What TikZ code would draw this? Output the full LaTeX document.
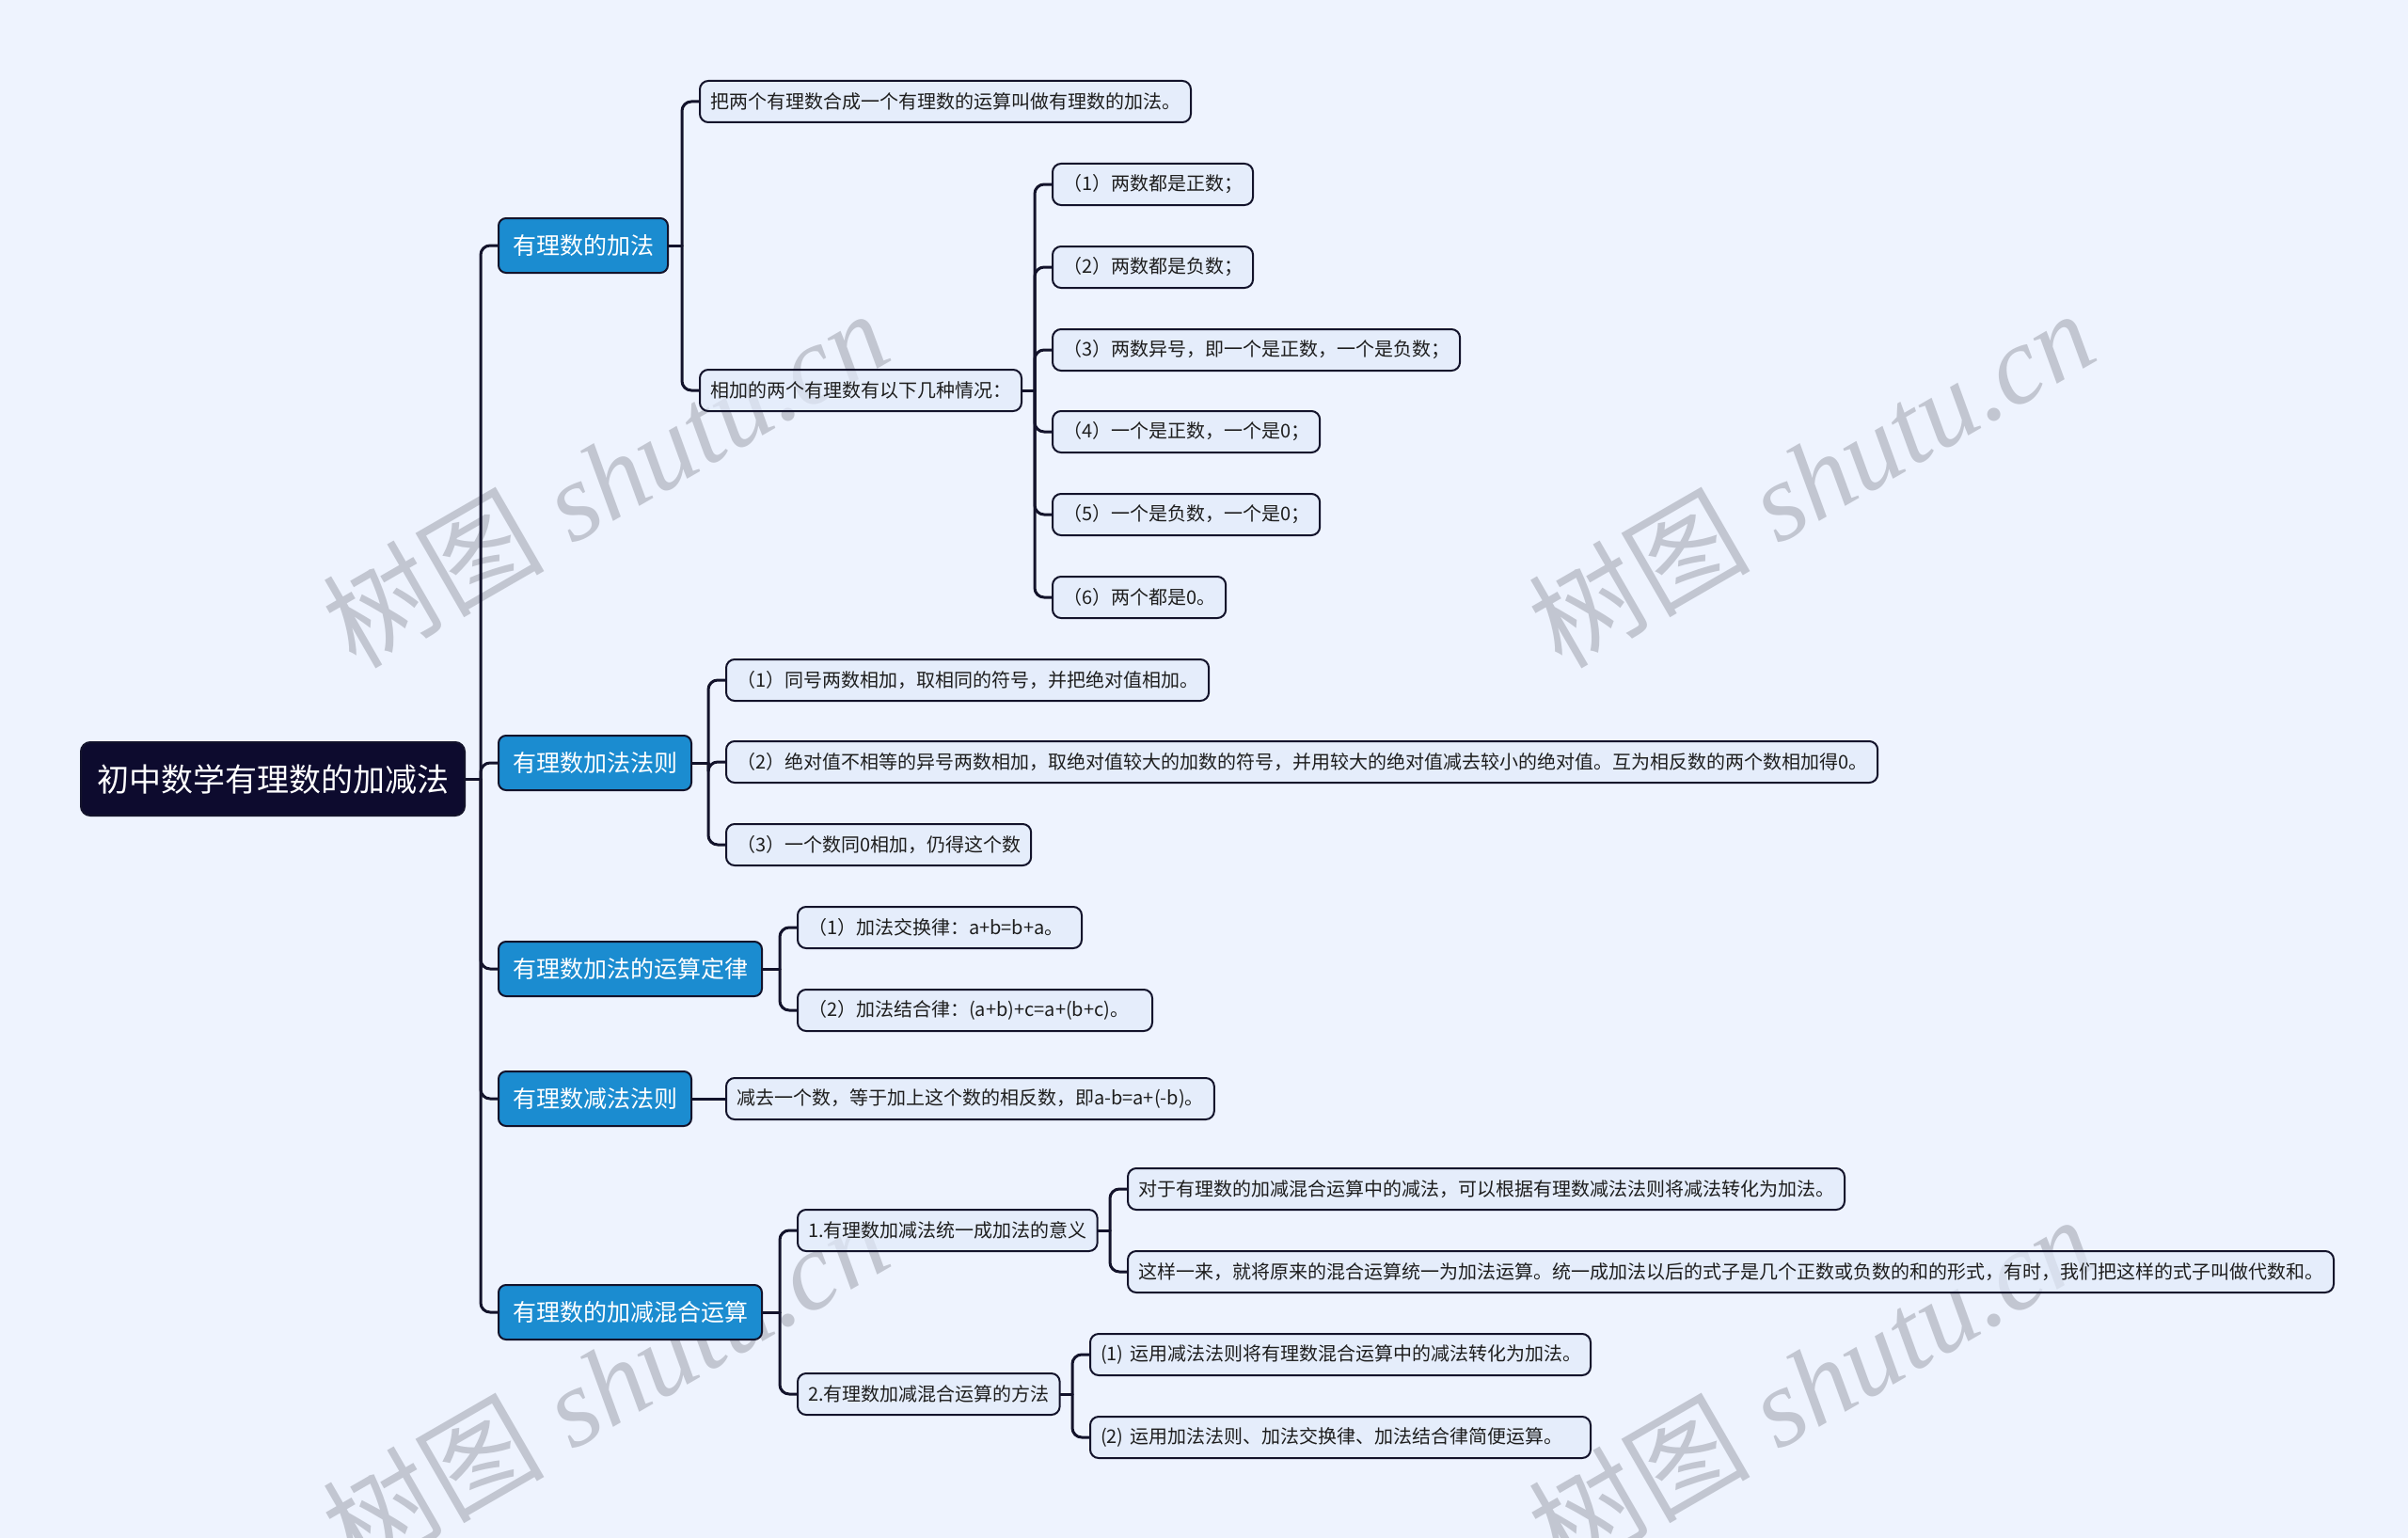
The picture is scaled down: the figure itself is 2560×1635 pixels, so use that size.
\documentclass[tikz,border=0pt]{standalone}
\usepackage{fontspec}
\newfontfamily\cjk{Noto Sans CJK SC}
\newfontfamily\wmserif{Liberation Serif}
\usetikzlibrary{calc}
\definecolor{bgc}{HTML}{EEF3FE}
\definecolor{boxc}{HTML}{E2EBFA}
\definecolor{bluec}{HTML}{1B8CD0}
\definecolor{rootc}{HTML}{0D0B2E}
\definecolor{linec}{HTML}{13132B}
\definecolor{textc}{HTML}{1E1E1E}
\definecolor{wmc}{HTML}{C2C6D1}
\pgfdeclarelayer{wm}
\pgfdeclarelayer{lk}
\pgfsetlayers{wm,lk,main}
\tikzset{
  rootbox/.style={draw=linec, line width=2pt, fill=rootc, text=white, rounded corners=10pt,
    font=\cjk\fontsize{34}{40}\selectfont, inner xsep=17pt, inner ysep=0pt, minimum height=78pt, anchor=west},
  topicbox/.style={draw=linec, line width=2pt, fill=bluec, text=white, rounded corners=8pt,
    font=\cjk\fontsize{25}{30}\selectfont, inner xsep=15pt, inner ysep=0pt, minimum height=58pt, anchor=west},
  leafbox/.style={draw=linec, line width=2pt, fill=boxc, fill opacity=0.7, text opacity=1, text=textc, rounded corners=9pt,
    font=\cjk\fontsize{20}{24}\selectfont, inner xsep=11pt, inner ysep=0pt, minimum height=44pt, anchor=west},
  link/.style={draw=linec, line width=3pt, rounded corners=10pt, line cap=round},
  wmark/.style={text=wmc, rotate=30, font=\wmserif\itshape\fontsize{118}{120}\selectfont, inner sep=0pt}
}
\newcommand\hookup[3]{% #1 parent, #2 first child (for spine x), #3 list of children
  \coordinate (sp-#1) at ($(#2.west)+(-18,0)$);
  \draw[link] (#1.east) -- (sp-#1 |- #1.east);
  \foreach \ch in {#3} {\draw[link] (sp-#1 |- #1.east) |- (\ch.west);}
}
\begin{document}
\begin{tikzpicture}[x=1pt,y=-1pt]
\useasboundingbox (0,0) rectangle (2560,1635);
\begin{pgfonlayer}{wm}
\fill[bgc] (0,0) rectangle (2560,1635);
\node[wmark] (w1) at (643,508) {{\cjk 树图} shutu.cn};
\node[wmark] (w2) at (1925,508) {{\cjk 树图} shutu.cn};
\node[wmark] (w3) at (643,1471) {{\cjk 树图} shutu.cn};
\node[wmark] (w4) at (1925,1471) {{\cjk 树图} shutu.cn};
\end{pgfonlayer}

\node[rootbox] (R) at (85,828) {初中数学有理数的加减法};

\node[topicbox] (A1) at (529,261) {有理数的加法};
\node[topicbox] (A2) at (529,811) {有理数加法法则};
\node[topicbox] (A3) at (529,1030) {有理数加法的运算定律};
\node[topicbox] (A4) at (529,1168) {有理数减法法则};
\node[topicbox] (A5) at (529,1395) {有理数的加减混合运算};

\node[leafbox] (B1) at (743,108) {把两个有理数合成一个有理数的运算叫做有理数的加法。};
\node[leafbox] (B2) at (743,415) {相加的两个有理数有以下几种情况：};
\node[leafbox] (C1) at (1118,196) {（1）两数都是正数；};
\node[leafbox] (C2) at (1118,284) {（2）两数都是负数；};
\node[leafbox] (C3) at (1118,372) {（3）两数异号，即一个是正数，一个是负数；};
\node[leafbox] (C4) at (1118,459) {（4）一个是正数，一个是0；};
\node[leafbox] (C5) at (1118,547) {（5）一个是负数，一个是0；};
\node[leafbox] (C6) at (1118,635) {（6）两个都是0。};

\node[leafbox] (D1) at (771,723) {（1）同号两数相加，取相同的符号，并把绝对值相加。};
\node[leafbox] (D2) at (771,810) {（2）绝对值不相等的异号两数相加，取绝对值较大的加数的符号，并用较大的绝对值减去较小的绝对值。互为相反数的两个数相加得0。};
\node[leafbox] (D3) at (771,898) {（3）一个数同0相加，仍得这个数};

\node[leafbox, text width=280pt, align=left] (E1) at (847,986) {（1）加法交换律：a+b=b+a。};
\node[leafbox, text width=355pt, align=left] (E2) at (847,1074) {（2）加法结合律：(a+b)+c=a+(b+c)。};

\node[leafbox] (F1) at (771,1168) {减去一个数，等于加上这个数的相反数，即a-b=a+(-b)。};

\node[leafbox] (G1) at (847,1308) {1.有理数加减法统一成加法的意义};
\node[leafbox] (G2) at (847,1482) {2.有理数加减混合运算的方法};
\node[leafbox] (H1) at (1198,1264) {对于有理数的加减混合运算中的减法，可以根据有理数减法法则将减法转化为加法。};
\node[leafbox] (H2) at (1198,1352) {这样一来，就将原来的混合运算统一为加法运算。统一成加法以后的式子是几个正数或负数的和的形式，有时，我们把这样的式子叫做代数和。};
\node[leafbox, text width=510pt, align=left] (I1) at (1158,1440) {(1) 运用减法法则将有理数混合运算中的减法转化为加法。};
\node[leafbox, text width=510pt, align=left] (I2) at (1158,1528) {(2) 运用加法法则、加法交换律、加法结合律简便运算。};

\begin{pgfonlayer}{lk}
\hookup{R}{A1}{A1,A2,A3,A4,A5}
\hookup{A1}{B1}{B1,B2}
\hookup{B2}{C1}{C1,C2,C3,C4,C5,C6}
\hookup{A2}{D1}{D1,D2,D3}
\hookup{A3}{E1}{E1,E2}
\draw[link] (A4.east) -- (F1.west);
\hookup{A5}{G1}{G1,G2}
\hookup{G1}{H1}{H1,H2}
\hookup{G2}{I1}{I1,I2}
\end{pgfonlayer}
\end{tikzpicture}
\end{document}
